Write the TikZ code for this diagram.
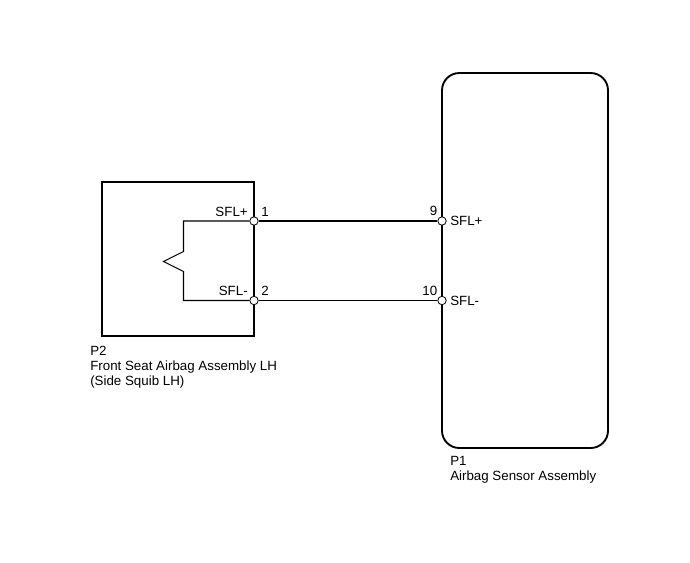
\documentclass[tikz,border=0pt]{standalone}
\usepackage{fontspec}
\setmainfont{Liberation Sans}
\tikzset{
  pin/.style={circle,draw,fill=white,inner sep=0pt,minimum size=6.3pt,line width=0.6pt},
  lbl/.style={inner sep=0pt,font=\fontsize{10}{11.25}\selectfont},
  part/.style={line width=1.4pt},
  wire/.style={line width=0.8pt}
}
\begin{document}
\begin{tikzpicture}[x=0.75pt,y=-0.75pt]
      \useasboundingbox (0,0) rectangle (690,562);
      % connectors
      \draw[part] (102,182) rectangle (254,336);
      \draw[part,rounded corners=13pt] (442,73) rectangle (608,448);
      \draw
        (254,221) node[pin] (p2a){}
        (254,300.5) node[pin] (p2b){}
        (442,221) node[pin] (p1a){}
        (442,300.5) node[pin] (p1b){};
      \begin{scope}[wire]
        \draw (p2a) to (p1a);
        \draw (p2b) to (p1b);
        % squib
        \draw (p2a) -- (183.5,221) -- (183.5,251.5) -- (163.5,261.5)
          -- (183.5,271.5) -- (183.5,300.5) -- (p2b);
      \end{scope}
      % pin labels
      \node[lbl,anchor=base east] (t2a) at (248,216) {SFL+};
      \node[lbl,anchor=base west] (n2a) at (261,216) {1};
      \node[lbl,anchor=base east] (t2b) at (248,295) {SFL-};
      \node[lbl,anchor=base west] (n2b) at (261,295) {2};
      \node[lbl,anchor=base east] (n1a) at (437.5,215) {9};
      \node[lbl,anchor=west] (t1a) at (450,221) {SFL+};
      \node[lbl,anchor=base east] (n1b) at (437.5,295) {10};
      \node[lbl,anchor=west] (t1b) at (450,300.5) {SFL-};
      % part names
      \node[lbl,anchor=north west,align=left] (P2) at (90,346)
        {P2\\Front Seat Airbag Assembly LH\\(Side Squib LH)};
      \node[lbl,anchor=north west,align=left] (P1) at (450,456)
        {P1\\Airbag Sensor Assembly};
    \end{tikzpicture}
\end{document}
